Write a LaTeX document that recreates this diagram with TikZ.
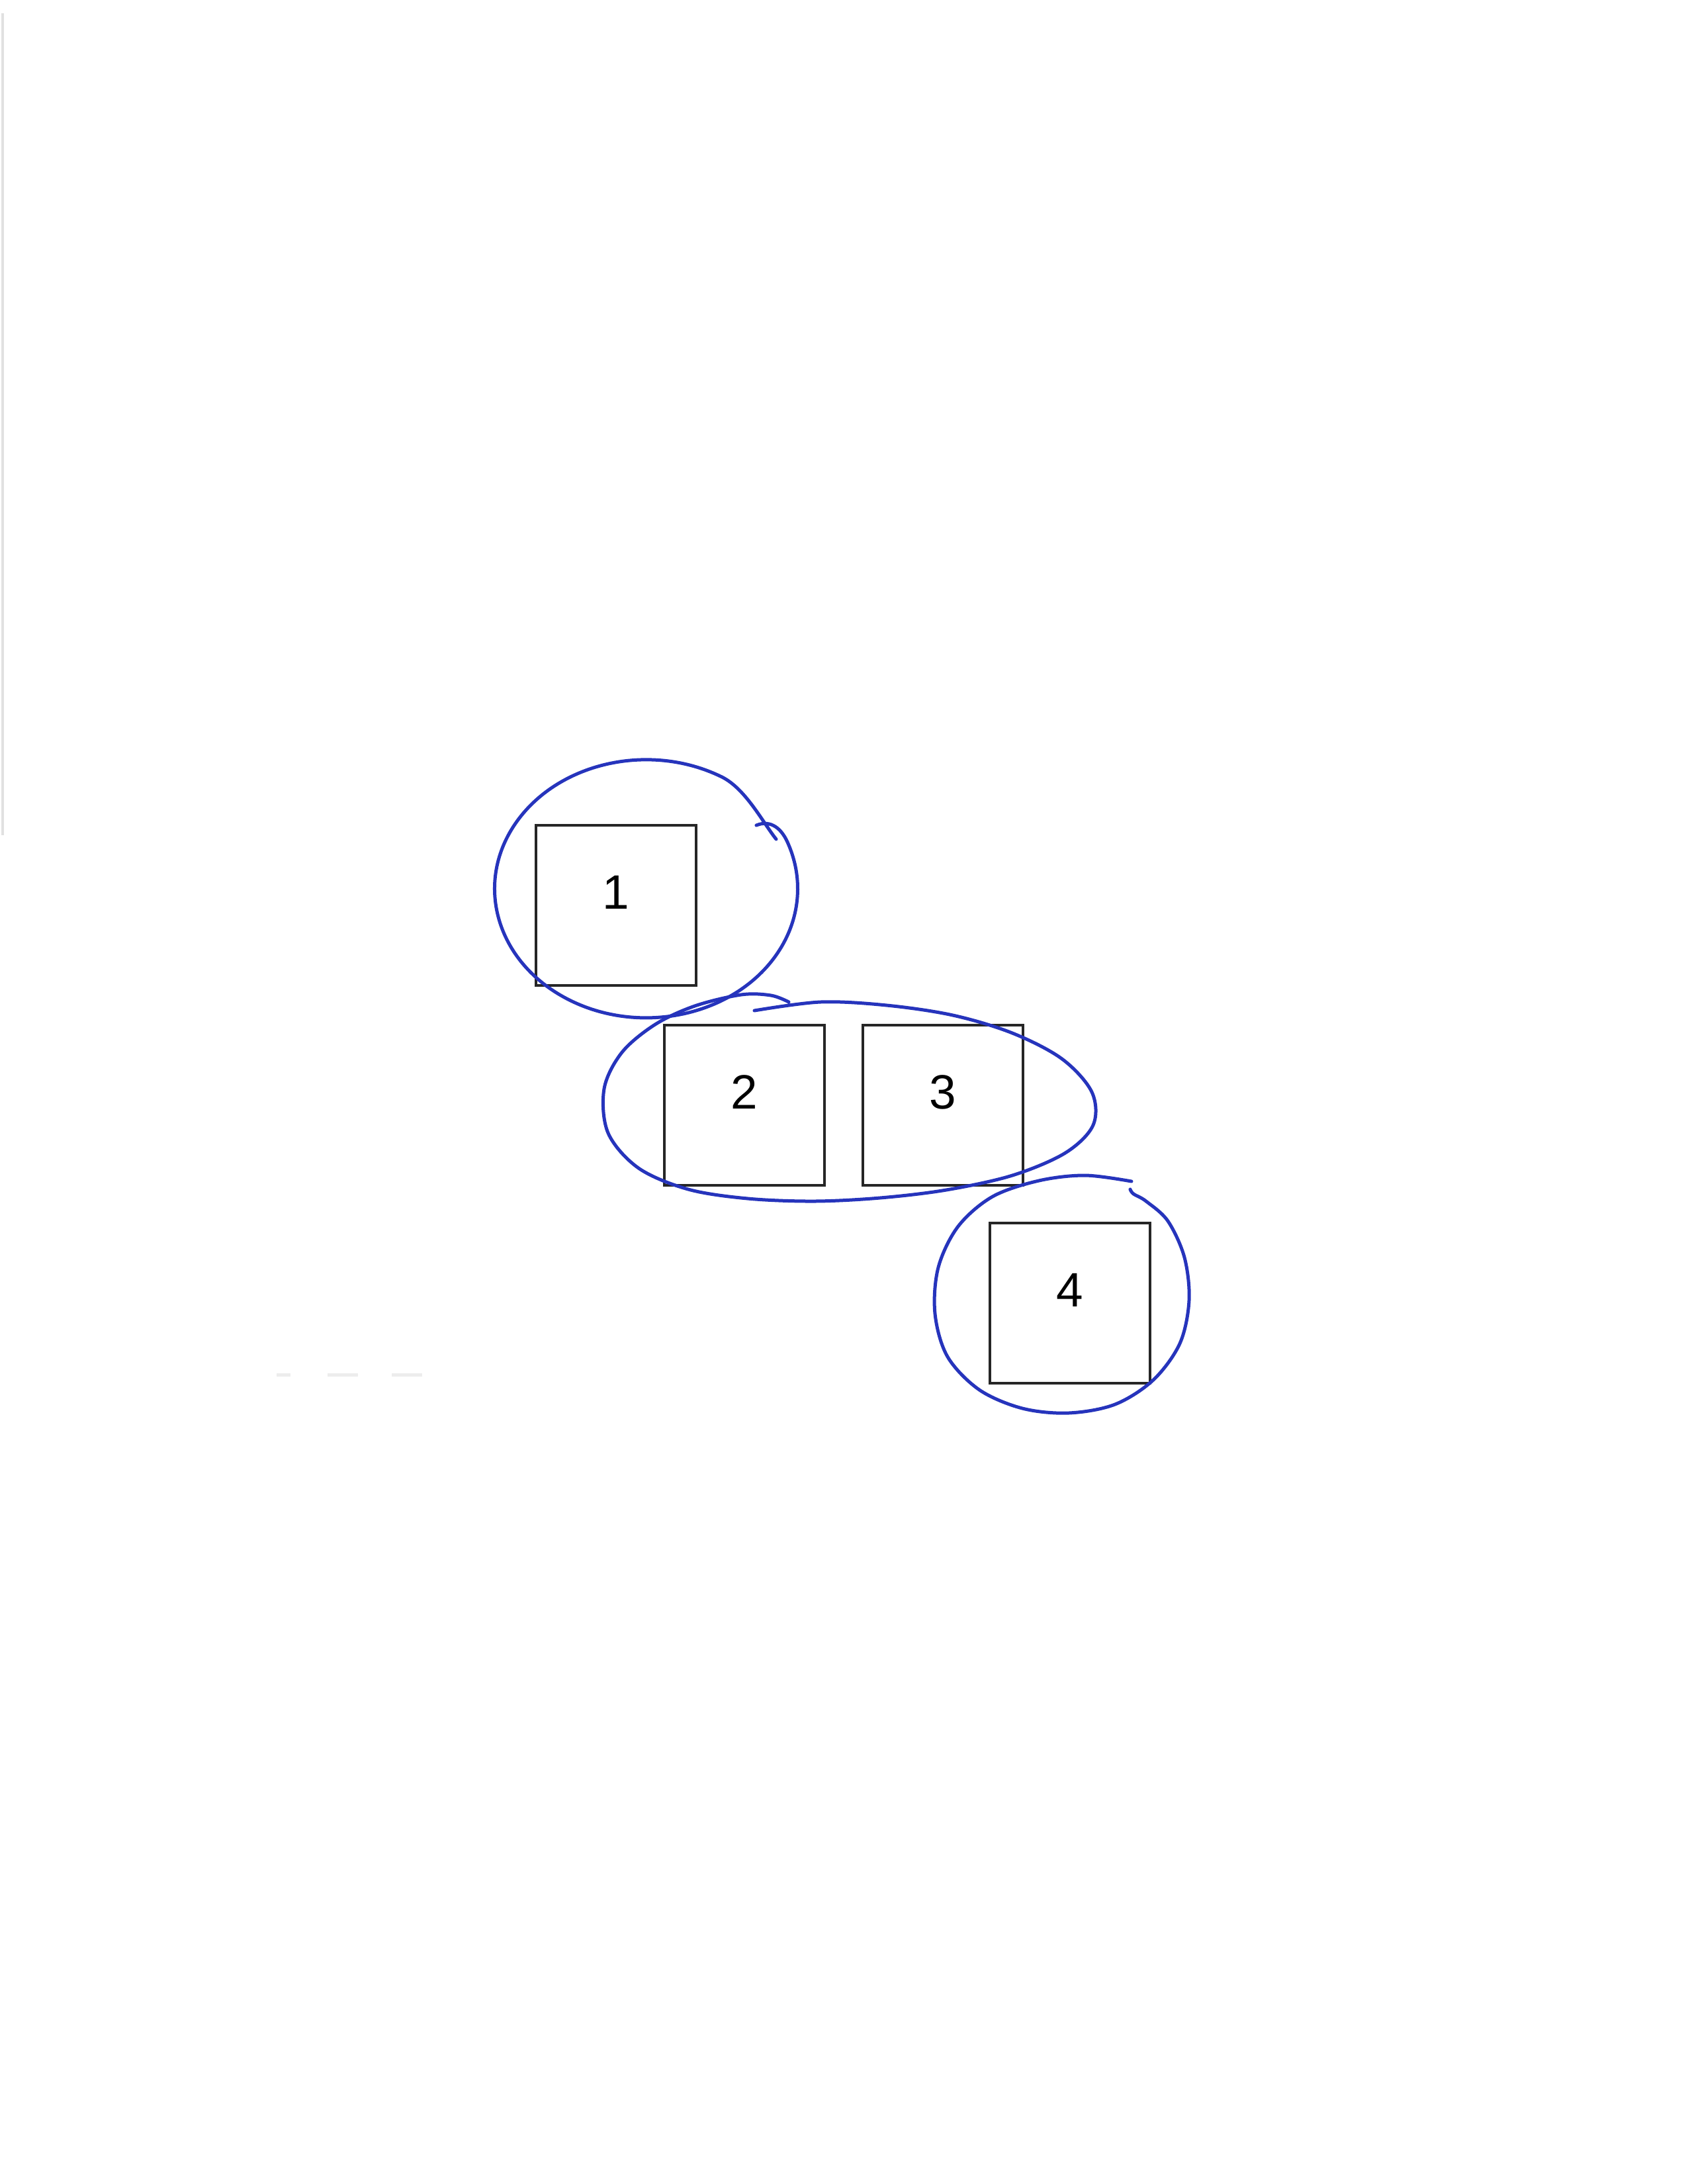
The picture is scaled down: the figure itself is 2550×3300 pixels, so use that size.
\documentclass[tikz,border=0pt]{standalone}
\usepackage{fontspec}
\setmainfont{Liberation Sans}
\definecolor{penblue}{RGB}{38,52,188}
\definecolor{scangray}{RGB}{225,225,225}
\tikzset{
  sq/.style={draw=black!85, line width=1pt, minimum size=58pt, inner sep=0pt},
  num/.style={inner sep=0pt, font=\fontsize{17.5}{20}\selectfont},
  loopline/.style={draw=penblue, line width=1.2pt, line cap=round, line join=round},
  scan/.style={draw=scangray, line width=1.2pt}
}
\begin{document}
\begin{tikzpicture}[x=0.24pt, y=-0.24pt]
\useasboundingbox[fill=white] (0,0) rectangle (2550,3300);

% faint scan marks
\draw[scan] (4,20) -- (4,1262);
\draw[scan, draw=scangray!60] (418,2077) -- (439,2077) (495,2077) -- (541,2077) (592,2077) -- (638,2077);

% boxes
\node[sq] (b1) at (931,1368) {};
\node[sq] (b2) at (1125,1670) {};
\node[sq] (b3) at (1425,1670) {};
\node[sq] (b4) at (1617,1969) {};

% numbers
\node[num] (t1) at ([yshift=4.6pt]b1.center) {1};
\node[num] (t2) at ([yshift=4.8pt]b2.center) {2};
\node[num] (t3) at ([yshift=4.8pt]b3.center) {3};
\node[num] (t4) at ([yshift=4.8pt]b4.center) {4};

% hand-drawn loop around 1
\coordinate (c1start) at (1173,1268);
\coordinate (c1end) at (1143,1247);
\draw[loopline] (c1start) .. controls (1153,1243) and (1127,1192) .. (1091,1174)
  arc[start angle=-60, end angle=-380, x radius=229, y radius=195]
  .. controls (1182,1252) and (1165,1238) .. (c1end);

% hand-drawn loop around 2 and 3
\draw[loopline] plot[smooth, tension=0.55] coordinates {
 (1140,1527) (1240,1514) (1340,1519) (1440,1534) (1530,1561) (1605,1600)
 (1650,1650) (1652,1700) (1610,1742) (1530,1776) (1430,1798) (1330,1810)
 (1230,1815) (1130,1811) (1040,1797) (965,1765) (919,1712) (913,1645)
 (940,1590) (990,1548) (1050,1520) (1120,1503) (1165,1504) (1192,1514)};

% hand-drawn loop around 4
\draw[loopline] plot[smooth, tension=0.55] coordinates {
 (1710,1785) (1640,1776) (1570,1784) (1500,1808) (1448,1853) (1418,1915)
 (1413,1985) (1432,2050) (1480,2100) (1545,2128) (1615,2135) (1685,2122)
 (1743,2085) (1783,2030) (1797,1965) (1790,1900) (1765,1845) (1732,1815)
 (1713,1804) (1708,1797)};
\end{tikzpicture}
\end{document}
